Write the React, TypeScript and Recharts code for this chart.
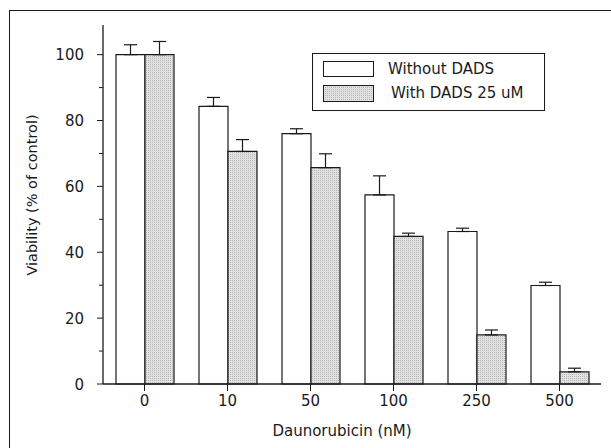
import { BarChart, Bar, XAxis, YAxis, ErrorBar, Label } from "recharts";

const categories = ["0", "10", "50", "100", "250", "500"];
const withoutDads = [100, 84.3, 76, 57.4, 46.3, 29.9];
const withDads = [100, 70.6, 65.7, 44.8, 14.9, 3.7];
const withoutDadsErr = [3, 2.7, 1.5, 5.8, 1, 1];
const withDadsErr = [4, 3.6, 4.2, 1, 1.5, 1.1];
const yTicks = [0, 10, 20, 30, 40, 50, 60, 70, 80, 90, 100];
const seriesNames = ["Without DADS", "With DADS 25 uM"];

const FONT = '"DejaVu Sans", sans-serif';
const INK = "#1a1a1a";

const data = categories.map((dose, i) => ({
  dose,
  without: withoutDads[i],
  withD: withDads[i],
  withoutErr: [0, withoutDadsErr[i]],
  withErr: [0, withDadsErr[i]],
}));

// major ticks every 20 get a label, minor ones are just short marks
const YTick = ({ x, y, payload }: any) => {
  const major = payload.value % 20 === 0;
  return (
    <g>
      <line x1={x - (major ? 6 : 4)} x2={x} y1={y} y2={y} stroke={INK} strokeWidth={1} />
      {major && (
        <text x={x - 19} y={y} dy={5.5} textAnchor="end" fill={INK} fontSize={15} fontFamily={FONT}>
          {payload.value}
        </text>
      )}
    </g>
  );
};

const Stipple = ({ id }: { id: string }) => (
  <pattern id={id} width="2" height="2" patternUnits="userSpaceOnUse">
    <rect width="2" height="2" fill="#e2e2e2" />
    <rect x="0" y="0" width="1" height="1" fill="#b4b4b4" />
  </pattern>
);

function ChartLegend() {
  return (
    <div
      style={{
        position: "absolute",
        left: 312,
        top: 53,
        width: 233,
        height: 58,
        boxSizing: "border-box",
        border: `1px solid ${INK}`,
        fontFamily: FONT,
        fontSize: 15,
        color: INK,
        background: "#fff",
      }}
    >
      <div style={{ position: "absolute", left: 10, top: 7, width: 51, height: 16, boxSizing: "border-box", border: `1px solid ${INK}`, background: "#fff" }} />
      <svg style={{ position: "absolute", left: 10, top: 31 }} width={51} height={17}>
        <defs>
          <Stipple id="stippleLegend" />
        </defs>
        <rect x={0.5} y={0.5} width={50} height={16} fill="url(#stippleLegend)" stroke={INK} strokeWidth={1} />
      </svg>
      <div style={{ position: "absolute", left: 75, top: 15, transform: "translateY(-50%)", whiteSpace: "nowrap" }}>{seriesNames[0]}</div>
      <div style={{ position: "absolute", left: 78, top: 39, transform: "translateY(-50%)", whiteSpace: "nowrap" }}>{seriesNames[1]}</div>
    </div>
  );
}

export default function App() {
  return (
    <div style={{ position: "absolute", left: 0, top: 0, width: 611, height: 448, background: "#fff", fontFamily: FONT }}>
      <BarChart
        width={611}
        height={448}
        data={data}
        margin={{ top: 25, right: 10, bottom: 0, left: 0 }}
        barGap={0}
      >
        <defs>
          <Stipple id="stipple" />
        </defs>
        <XAxis
          dataKey="dose"
          height={64}
          tickSize={7}
          tickMargin={4}
          axisLine={{ stroke: INK, strokeWidth: 1.3 }}
          tickLine={{ stroke: INK, strokeWidth: 1 }}
          tick={{ fill: INK, fontSize: 15, fontFamily: FONT }}
        >
          <Label
            content={({ viewBox }: any) => (
              <text
                x={viewBox.x + viewBox.width / 2 - 10}
                y={436}
                textAnchor="middle"
                fill={INK}
                fontSize={15}
                fontFamily={FONT}
              >
                Daunorubicin (nM)
              </text>
            )}
          />
        </XAxis>
        <YAxis
          type="number"
          domain={[0, 109]}
          ticks={yTicks}
          interval={0}
          width={103}
          tickSize={0}
          tickMargin={0}
          tickLine={false}
          axisLine={{ stroke: INK, strokeWidth: 1.3 }}
          tick={<YTick />}
        >
          <Label
            content={() => (
              <text
                x={0}
                y={0}
                transform="translate(37 195) rotate(-90)"
                textAnchor="middle"
                fill={INK}
                fontSize={14.5}
                fontFamily={FONT}
              >
                Viability (% of control)
              </text>
            )}
          />
        </YAxis>
        <Bar dataKey="without" name={seriesNames[0]} fill="#fff" stroke={INK} strokeWidth={1.2} barSize={29} isAnimationActive={false}>
          <ErrorBar dataKey="withoutErr" width={6.5} stroke={INK} strokeWidth={1.2} isAnimationActive={false} />
        </Bar>
        <Bar dataKey="withD" name={seriesNames[1]} fill="url(#stipple)" stroke={INK} strokeWidth={1.2} barSize={29} isAnimationActive={false}>
          <ErrorBar dataKey="withErr" width={6.5} stroke={INK} strokeWidth={1.2} isAnimationActive={false} />
        </Bar>
      </BarChart>
      <ChartLegend />
      <div style={{ position: "absolute", left: 9, top: 10, right: 0, bottom: 0, borderTop: `1.5px solid ${INK}`, borderLeft: `1.5px solid ${INK}`, pointerEvents: "none" }} />
    </div>
  );
}
